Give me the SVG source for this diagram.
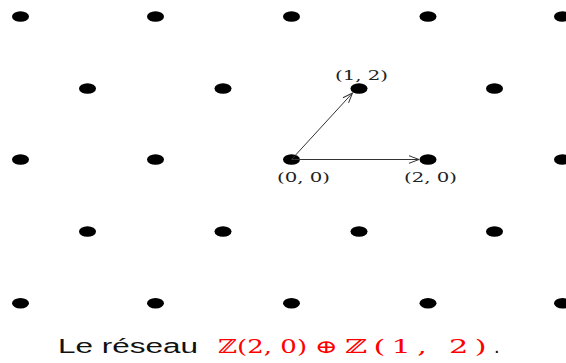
<svg xmlns="http://www.w3.org/2000/svg" width="566" height="363" viewBox="0 0 566 363">
<style>
.dot{fill:#000}
.lbl{font-family:"DejaVu Serif","Liberation Serif",serif;font-size:12px;fill:#222}
.edge{stroke:#333;stroke-width:1;fill:none}
.cap{font-family:"Liberation Sans","DejaVu Sans",sans-serif;font-size:20px;fill:#111}
.math{font-family:"DejaVu Serif","Liberation Serif",serif;font-size:19px;fill:#ff0000}
</style>
<defs>
<marker id="arr" markerUnits="userSpaceOnUse" markerWidth="14" markerHeight="10" viewBox="-11 -5 12 10" refX="0" refY="0" orient="auto">
<path d="M-10,-3.8 L0,0 L-10,3.8" fill="none" stroke="#333" stroke-width="1"/>
</marker>
</defs>
<rect width="566" height="363" fill="#fff"/>
<g id="r0c0"><ellipse class="dot" cx="20.5" cy="16.5" rx="8.5" ry="5.3"/></g>
<g id="r0c1"><ellipse class="dot" cx="155.5" cy="16.5" rx="8.5" ry="5.3"/></g>
<g id="r0c2"><ellipse class="dot" cx="291.5" cy="16.5" rx="8.5" ry="5.3"/></g>
<g id="r0c3"><ellipse class="dot" cx="428" cy="16.5" rx="8.5" ry="5.3"/></g>
<g id="r0c4"><ellipse class="dot" cx="562.5" cy="16.5" rx="8.5" ry="5.3"/></g>
<g id="r1c0"><ellipse class="dot" cx="87.5" cy="88.5" rx="8.5" ry="5.3"/></g>
<g id="r1c1"><ellipse class="dot" cx="223" cy="88.5" rx="8.5" ry="5.3"/></g>
<g id="p12"><ellipse class="dot" cx="359" cy="88.5" rx="8.5" ry="5.3"/><text class="lbl" x="335" y="80" textLength="53" lengthAdjust="spacingAndGlyphs">(1, 2)</text></g>
<g id="r1c3"><ellipse class="dot" cx="494.5" cy="88.5" rx="8.5" ry="5.3"/></g>
<g id="r2c0"><ellipse class="dot" cx="20.5" cy="159.5" rx="8.5" ry="5.3"/></g>
<g id="r2c1"><ellipse class="dot" cx="155.5" cy="159.5" rx="8.5" ry="5.3"/></g>
<g id="p00"><ellipse class="dot" cx="291.5" cy="159.5" rx="8.5" ry="5.3"/><text class="lbl" x="277" y="182" textLength="53" lengthAdjust="spacingAndGlyphs">(0, 0)</text></g>
<g id="p20"><ellipse class="dot" cx="428" cy="159.5" rx="8.5" ry="5.3"/><text class="lbl" x="404" y="182" textLength="53" lengthAdjust="spacingAndGlyphs">(2, 0)</text></g>
<g id="r2c4"><ellipse class="dot" cx="562.5" cy="159.5" rx="8.5" ry="5.3"/></g>
<g id="r3c0"><ellipse class="dot" cx="87.5" cy="231.5" rx="8.5" ry="5.3"/></g>
<g id="r3c1"><ellipse class="dot" cx="223" cy="231.5" rx="8.5" ry="5.3"/></g>
<g id="r3c2"><ellipse class="dot" cx="359" cy="231.5" rx="8.5" ry="5.3"/></g>
<g id="r3c3"><ellipse class="dot" cx="494.5" cy="231.5" rx="8.5" ry="5.3"/></g>
<g id="r4c0"><ellipse class="dot" cx="20.5" cy="303.3" rx="8.5" ry="5.3"/></g>
<g id="r4c1"><ellipse class="dot" cx="155.5" cy="303.3" rx="8.5" ry="5.3"/></g>
<g id="r4c2"><ellipse class="dot" cx="291.5" cy="303.3" rx="8.5" ry="5.3"/></g>
<g id="r4c3"><ellipse class="dot" cx="428" cy="303.3" rx="8.5" ry="5.3"/></g>
<g id="r4c4"><ellipse class="dot" cx="562.5" cy="303.3" rx="8.5" ry="5.3"/></g>
<g id="connectors">
<line class="edge" x1="291.5" y1="159.5" x2="352.5" y2="93" marker-end="url(#arr)"/>
<line class="edge" x1="291.5" y1="159.5" x2="419" y2="159.5" marker-end="url(#arr)"/>
</g>
<g id="caption">
<text class="cap" x="58" y="353" textLength="140" lengthAdjust="spacingAndGlyphs">Le réseau</text>
<text class="math" transform="translate(218,353) scale(1.37,1)" x="0" y="0" textLength="65" lengthAdjust="spacingAndGlyphs">ℤ(2, 0)</text>
<text class="math" x="315" y="353" textLength="23" lengthAdjust="spacingAndGlyphs">⊕</text>
<text class="math" transform="translate(345,353) scale(1.6,1)" x="0" y="0" textLength="88.5" lengthAdjust="spacing">ℤ(1, 2)</text>
<text class="cap" x="494" y="353">.</text>
</g>
</svg>
